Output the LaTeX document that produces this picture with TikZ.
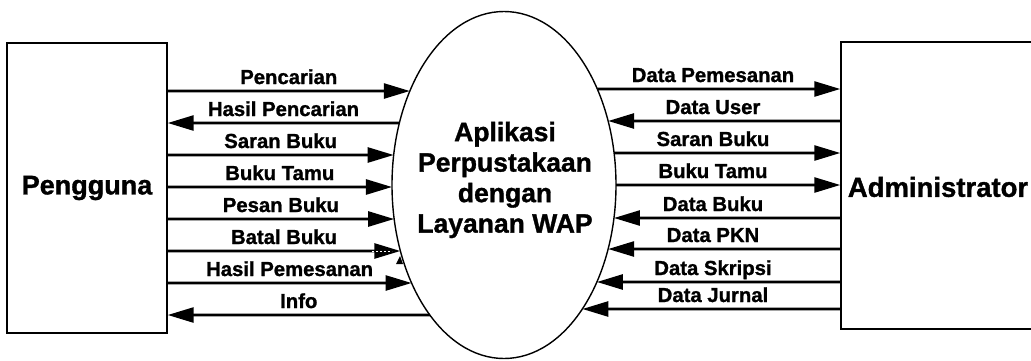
\documentclass[tikz,border=0pt]{standalone}
\usepackage{fontspec}
\setmainfont{Liberation Sans}[BoldFeatures={FakeBold=1.2}]
\usetikzlibrary{arrows.meta,shapes.geometric,intersections}
\tikzset{
  entity/.style={draw, line width=1.4pt},
  bigtxt/.style={font=\fontsize{27}{30}\selectfont\bfseries, inner sep=0pt},
  lab/.style={font=\fontsize{20.3}{22}\selectfont\bfseries, inner sep=0pt, anchor=base},
  flow/.style={line width=2.6pt},
  fwd/.style={-{Triangle[length=26pt,width=15pt]}},
  bwd/.style={{Triangle[length=26pt,width=15pt]}-},
}
\begin{document}
\begin{tikzpicture}[x=1pt,y=-1pt]
\useasboundingbox (0,0) rectangle (1031,360);
% external entities
\node[entity, minimum width=160pt, minimum height=290pt, inner sep=0pt] (L) at (87,188) {};
\node[bigtxt] (Ltxt) at (L.center) {Pengguna};
\node[entity, minimum width=194pt, minimum height=287pt, inner sep=0pt] (R) at (938,185.5) {};
\node[bigtxt, font=\fontsize{27.5}{30}\selectfont\bfseries] (Rtxt) at (938,187) {Administrator};
% process
\node[ellipse, draw, line width=1.4pt, minimum width=224pt, minimum height=347pt, inner sep=0pt, name path=ell] (E) at (504,185) {};
\node[bigtxt, align=center, font=\fontsize{26.5}{30.5}\selectfont\bfseries] (Etxt) at (505,180) {Aplikasi\\Perpustakaan\\dengan\\Layanan WAP};
% left flows
\foreach \y/\d/\t in {91/fwd/Pencarian, 123/bwd/Hasil Pencarian, 155/fwd/Saran Buku, 187/fwd/Buku Tamu, 219/fwd/Pesan Buku, 251/fwd/Batal Buku, 283/fwd/Hasil Pemesanan, 315/bwd/Info}{
  \path[name path=hl] (L.east |- 0,\y) -- (E.center |- 0,\y);
  \draw[flow, \d, name intersections={of=hl and ell}] (L.east |- 0,\y) -- (intersection-1) node[lab, midway, yshift=7pt] {\t};
}
% right flows
\foreach \y/\d/\t in {89/fwd/Data Pemesanan, 121/bwd/Data User, 153/fwd/Saran Buku, 185/fwd/Buku Tamu, 218/bwd/Data Buku, 249/bwd/Data PKN, 282/bwd/Data Skripsi, 309/bwd/Data Jurnal}{
  \path[name path=hr] (E.center |- 0,\y) -- (R.west |- 0,\y);
  \draw[flow, \d, name intersections={of=hr and ell}] (intersection-1) -- (R.west |- 0,\y);
  \node[lab] at (713,{\y-7}) {\t};
}
% scan artefacts near Batal Buku tip
\draw[white, line width=1pt, dash pattern=on 2pt off 2pt] (372,251) -- (392,251);
\fill (396,264) -- (403,264) -- (400,256) -- cycle;
\end{tikzpicture}
\end{document}
